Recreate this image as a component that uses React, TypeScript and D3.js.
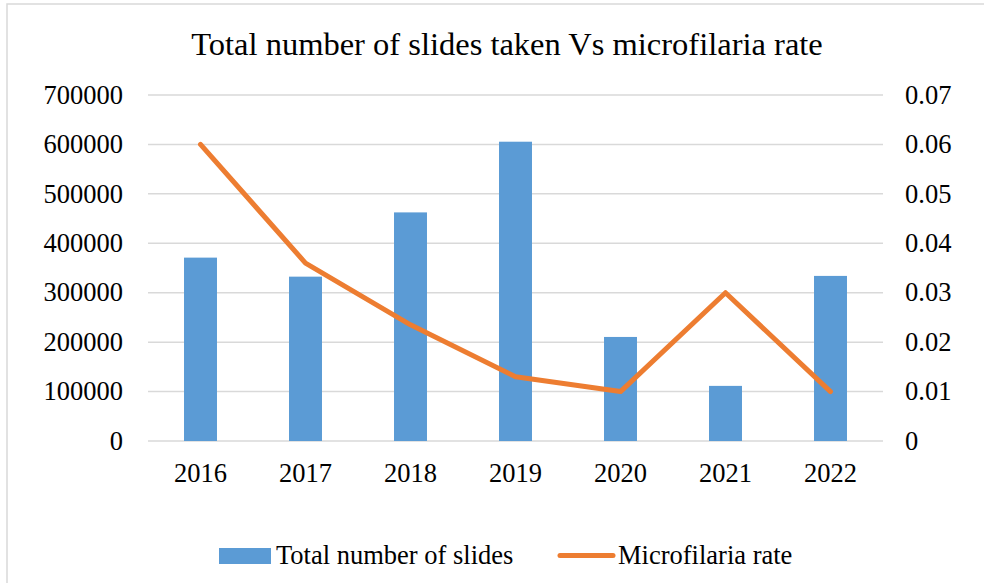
import { useMemo } from "react";
import * as d3 from "d3";

const YEARS = ["2016", "2017", "2018", "2019", "2020", "2021", "2022"];
const SLIDES = [371000, 332500, 462500, 605500, 210500, 111500, 334000];
const MF_RATE = [0.06, 0.036, 0.0235, 0.013, 0.01, 0.03, 0.01];
const LEFT_TICKS = [0, 100000, 200000, 300000, 400000, 500000, 600000, 700000];
const RIGHT_TICKS = [0, 0.01, 0.02, 0.03, 0.04, 0.05, 0.06, 0.07];

const W = 984;
const H = 583;
const FONT = "'Liberation Serif', 'Times New Roman', serif";
const BLUE = "#5B9BD5";
const ORANGE = "#ED7D31";
const LABEL_SIZE = 26.5;

export default function App() {
  const margin = { left: 148, right: 984 - 883, top: 95, bottom: 583 - 441 };
  const innerW = W - margin.left - margin.right;
  const innerH = H - margin.top - margin.bottom;

  const x = useMemo(
    () => d3.scaleBand<string>().domain(YEARS).range([0, innerW]).paddingInner(0.686).paddingOuter(0.343),
    [innerW]
  );
  const xc = d3.scaleBand<string>().domain(YEARS).range([0, innerW]);
  const yL = d3.scaleLinear().domain([0, 700000]).range([innerH, 0]);
  const yR = d3.scaleLinear().domain([0, 0.07]).range([innerH, 0]);

  const line = d3
    .line<number>()
    .x((_, i) => xc(YEARS[i])! + xc.bandwidth() / 2)
    .y((d) => yR(d));

  return (
    <svg
      width={W}
      height={H}
      style={{ position: "absolute", left: 0, top: 0, background: "#fff" }}
      fontFamily={FONT}
    >
      <rect x={7} y={4} width={W + 10} height={H + 10} fill="#fff" stroke="#D9D9D9" strokeWidth={1.5} />
      <text x={507} y={55} textAnchor="middle" fontSize={32.5} fill="#000">
        Total number of slides taken Vs microfilaria rate
      </text>
      <g transform={`translate(${margin.left},${margin.top})`}>
        {LEFT_TICKS.map((t) => (
          <line key={t} x1={0} x2={innerW} y1={yL(t)} y2={yL(t)} stroke="#D9D9D9" strokeWidth={1.5} />
        ))}
        {SLIDES.map((v, i) => (
          <rect
            key={YEARS[i]}
            x={x(YEARS[i])}
            y={yL(v)}
            width={x.bandwidth()}
            height={innerH - yL(v)}
            fill={BLUE}
          />
        ))}
        <path d={line(MF_RATE)!} fill="none" stroke={ORANGE} strokeWidth={5} strokeLinecap="round" strokeLinejoin="round" />
        {LEFT_TICKS.map((t) => (
          <text key={t} x={-25} y={yL(t)} dy="0.33em" textAnchor="end" fontSize={LABEL_SIZE} fill="#000">
            {t}
          </text>
        ))}
        {RIGHT_TICKS.map((t) => (
          <text key={t} x={innerW + 22} y={yR(t)} dy="0.33em" textAnchor="start" fontSize={LABEL_SIZE} fill="#000">
            {t === 0 ? "0" : t.toFixed(2)}
          </text>
        ))}
        {YEARS.map((yr) => (
          <text
            key={yr}
            x={xc(yr)! + xc.bandwidth() / 2}
            y={innerH + 41}
            textAnchor="middle"
            fontSize={LABEL_SIZE}
            fill="#000"
          >
            {yr}
          </text>
        ))}
      </g>
      <g>
        <rect x={219} y={548} width={52} height={16} fill={BLUE} />
        <text x={276} y={564} fontSize={LABEL_SIZE} fill="#000">
          Total number of slides
        </text>
        <line x1={560} x2={613} y1={555.5} y2={555.5} stroke={ORANGE} strokeWidth={5} strokeLinecap="round" />
        <text x={618} y={564} fontSize={LABEL_SIZE} fill="#000">
          Microfilaria rate
        </text>
      </g>
    </svg>
  );
}
